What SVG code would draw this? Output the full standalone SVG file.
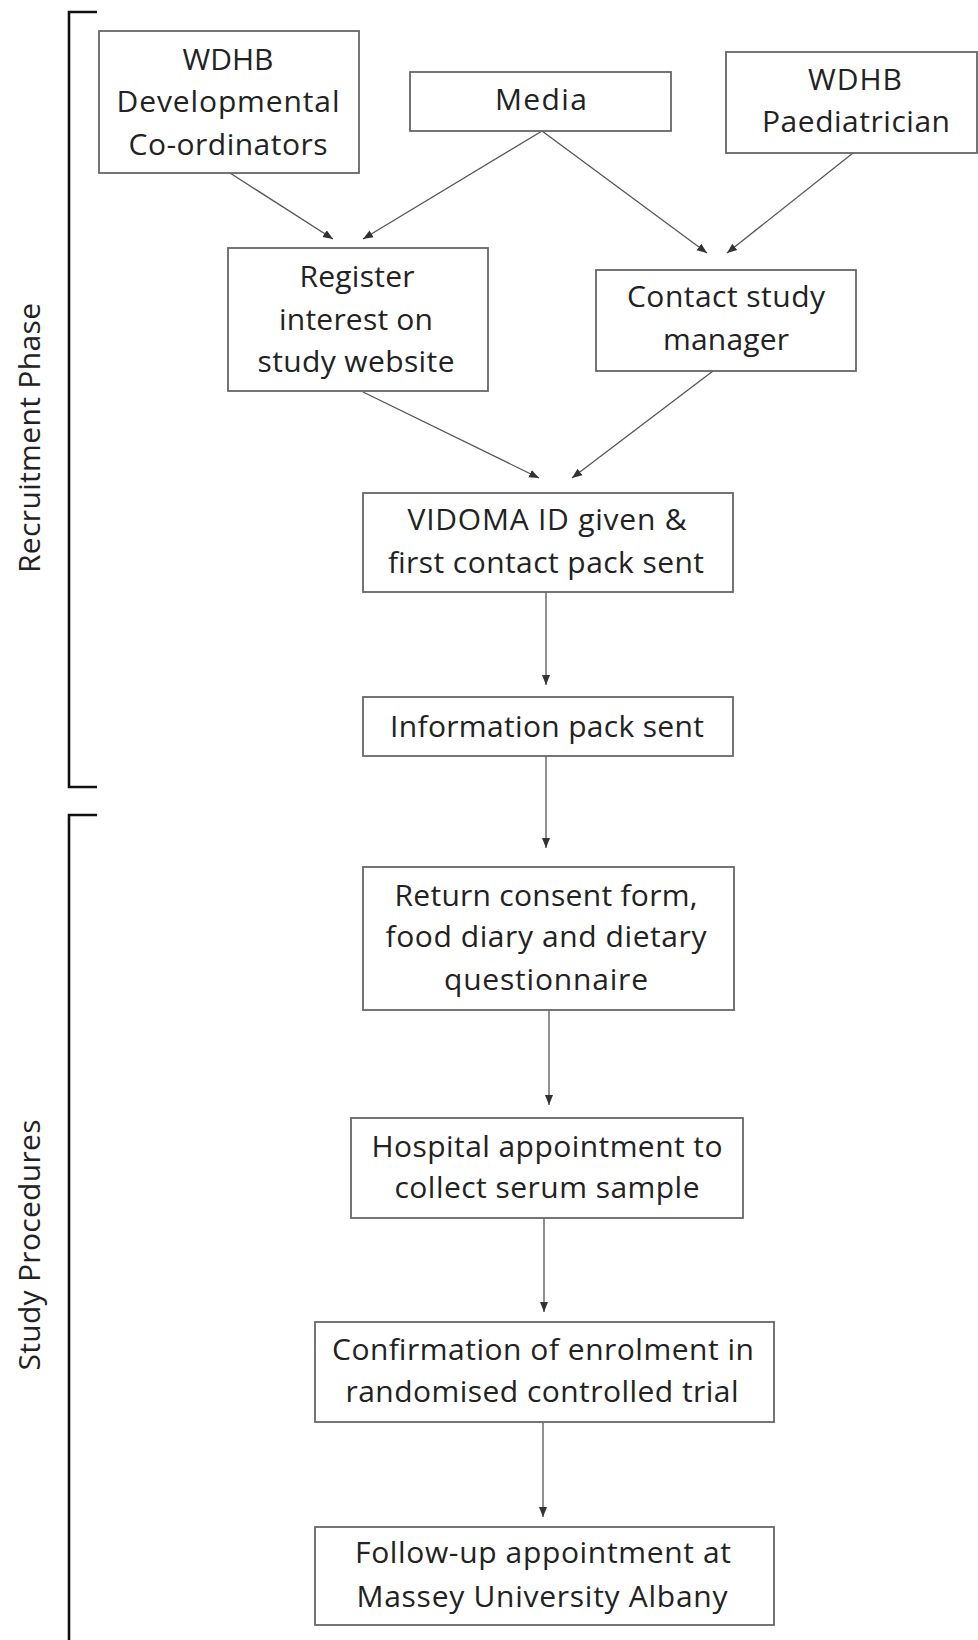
<svg xmlns="http://www.w3.org/2000/svg" width="978" height="1640" viewBox="0 0 978 1640">
<style>
.box{fill:#ffffff;stroke:#666666;stroke-width:1.8}
.t{font-family:"Open Sans","Liberation Sans",sans-serif;font-size:30px;fill:#222222;text-anchor:middle}
.lbl{font-family:"Open Sans","Liberation Sans",sans-serif;font-size:30px;fill:#222222;text-anchor:middle}
.conn{stroke:#555555;stroke-width:1.3;fill:none;marker-end:url(#ah)}
.br{stroke:#111111;stroke-width:2.6;fill:none}
</style>
<defs>
<marker id="ah" markerUnits="userSpaceOnUse" markerWidth="10" markerHeight="10" viewBox="0 0 10 10" refX="10" refY="5" orient="auto">
<path d="M0,1 L10,5 L0,9 Z" fill="#333333"/>
</marker>
</defs>
<rect width="978" height="1640" fill="#ffffff"/>
<g id="brackets">
<path class="br" d="M97,12 L69,12 L69,787 L97,787"/>
<path class="br" d="M97,815 L69,815 L69,1640"/>
<text class="lbl" x="40" y="438" transform="rotate(-90 40 438)" textLength="270">Recruitment Phase</text>
<text class="lbl" x="40" y="1245" transform="rotate(-90 40 1245)" textLength="251">Study Procedures</text>
</g>
<g id="connectors">
<path class="conn" d="M230,173 L333,239"/>
<path class="conn" d="M542,131 L363,239"/>
<path class="conn" d="M542,131 L707,253"/>
<path class="conn" d="M853,153 L727,253"/>
<path class="conn" d="M363,392 L539,478"/>
<path class="conn" d="M713,371 L572,478"/>
<path class="conn" d="M546,592 L546,685"/>
<path class="conn" d="M546,756 L546,848"/>
<path class="conn" d="M549,1010 L549,1105"/>
<path class="conn" d="M544,1218 L544,1312"/>
<path class="conn" d="M543,1422 L543,1517"/>
</g>
<g id="dev">
<rect class="box" x="99" y="31" width="260" height="142"/>
<text class="t" x="228" y="70" textLength="91">WDHB</text>
<text class="t" x="228" y="112" textLength="223">Developmental</text>
<text class="t" x="228" y="155" textLength="199">Co-ordinators</text>
</g>
<g id="media">
<rect class="box" x="410" y="72" width="261" height="59"/>
<text class="t" x="541" y="110" textLength="92">Media</text>
</g>
<g id="paed">
<rect class="box" x="726" y="52" width="251" height="101"/>
<text class="t" x="855" y="90" textLength="94">WDHB</text>
<text class="t" x="856" y="132" textLength="188">Paediatrician</text>
</g>
<g id="register">
<rect class="box" x="228" y="248" width="260" height="143"/>
<text class="t" x="357" y="287" textLength="115">Register</text>
<text class="t" x="356" y="330" textLength="154">interest on</text>
<text class="t" x="356" y="372" textLength="197">study website</text>
</g>
<g id="contact">
<rect class="box" x="596" y="270" width="260" height="101"/>
<text class="t" x="726" y="307" textLength="198">Contact study</text>
<text class="t" x="726" y="350" textLength="126">manager</text>
</g>
<g id="vidoma">
<rect class="box" x="363" y="493" width="370" height="99"/>
<text class="t" x="547" y="530" textLength="279">VIDOMA ID given &amp;</text>
<text class="t" x="546" y="573" textLength="316">first contact pack sent</text>
</g>
<g id="info">
<rect class="box" x="363" y="697" width="370" height="59"/>
<text class="t" x="547" y="737" textLength="314">Information pack sent</text>
</g>
<g id="return">
<rect class="box" x="363" y="867" width="371" height="143"/>
<text class="t" x="546" y="906" textLength="303">Return consent form,</text>
<text class="t" x="546" y="947" textLength="321">food diary and dietary</text>
<text class="t" x="546" y="990" textLength="204">questionnaire</text>
</g>
<g id="hospital">
<rect class="box" x="351" y="1118" width="392" height="100"/>
<text class="t" x="547" y="1157" textLength="351">Hospital appointment to</text>
<text class="t" x="547" y="1198" textLength="305">collect serum sample</text>
</g>
<g id="confirm">
<rect class="box" x="315" y="1322" width="459" height="100"/>
<text class="t" x="543" y="1360" textLength="422">Confirmation of enrolment in</text>
<text class="t" x="542" y="1402" textLength="393">randomised controlled trial</text>
</g>
<g id="followup">
<rect class="box" x="315" y="1527" width="459" height="98"/>
<text class="t" x="543" y="1563" textLength="376">Follow-up appointment at</text>
<text class="t" x="542" y="1607" textLength="371">Massey University Albany</text>
</g>
</svg>
